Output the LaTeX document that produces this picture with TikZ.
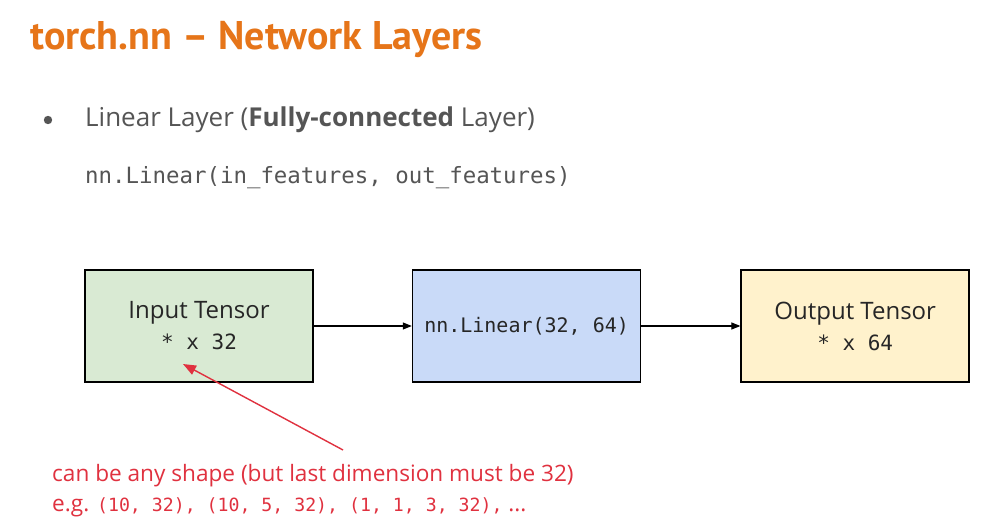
\documentclass[tikz,border=0pt]{standalone}
\usepackage{fontspec}
\setmainfont{Open Sans}
\setmonofont{DejaVu Sans Mono}
\newfontfamily\titlefont{PT Sans}
\usetikzlibrary{positioning,arrows.meta}
\definecolor{titleorange}{HTML}{E67519}
\definecolor{textgrey}{HTML}{555555}
\definecolor{notered}{HTML}{E0313F}
\definecolor{ingreen}{HTML}{D9EAD3}
\definecolor{midblue}{HTML}{C9DAF8}
\definecolor{outyellow}{HTML}{FFF2CC}
\tikzset{
  layerbox/.style={draw=black, line width=1.6pt, minimum width=228pt, minimum height=112pt,
    align=center, font=\fontsize{24}{31}\selectfont, text=black!85},
  flow/.style={-{Triangle[length=9pt,width=7pt]}, line width=1.1pt}
}
\begin{document}
\begin{tikzpicture}[x=1pt,y=-1pt]
\useasboundingbox[fill=white] (0,0) rectangle (995,526);
\node[anchor=base west, text=titleorange, font=\titlefont\bfseries\fontsize{40}{44}\selectfont, inner sep=0] (title) at (30,50) {torch.nn – Network Layers};

\fill[textgrey] (48,120) circle (4.2);
\node[anchor=base west, text=textgrey, font=\fontsize{26}{30}\selectfont, inner sep=0] (bullet) at (85,127) {Linear Layer (\textbf{Fully-connected} Layer)};
\node[anchor=base west, text=textgrey, font=\ttfamily\fontsize{22.4}{25}\selectfont, inner sep=0] (code) at (85,184) {nn.Linear(in\_features, out\_features)};

\node[layerbox, fill=ingreen] (input) at (199,326) {Input Tensor\\\ttfamily\fontsize{21}{25}\selectfont * x 32};
\node[layerbox, fill=midblue, right=98pt of input, font=\ttfamily\fontsize{20}{25}\selectfont] (linear) {nn.Linear(32, 64)};
\node[layerbox, fill=outyellow, right=99pt of linear] (output) {Output Tensor\\\ttfamily\fontsize{21}{25}\selectfont * x 64};
\draw[flow] (input) -- (linear);
\draw[flow] (linear) -- (output);

\coordinate (tip) at (183,364);
\node[anchor=base west, text=notered, font=\fontsize{22.6}{24}\selectfont, inner sep=0] (note) at (52,481) {can be any shape (but last dimension must be 32)};
\node[anchor=base west, text=notered, font=\fontsize{22.6}{24}\selectfont, inner sep=0] (eg) at (52,511) {e.g. {\ttfamily\fontsize{18.2}{24}\selectfont(10, 32), (10, 5, 32), (1, 1, 3, 32),} ...};
\draw[notered, line width=1.4pt, -{Triangle[length=13pt,width=10pt]}] (343,450) -- (tip);
\end{tikzpicture}
\end{document}
